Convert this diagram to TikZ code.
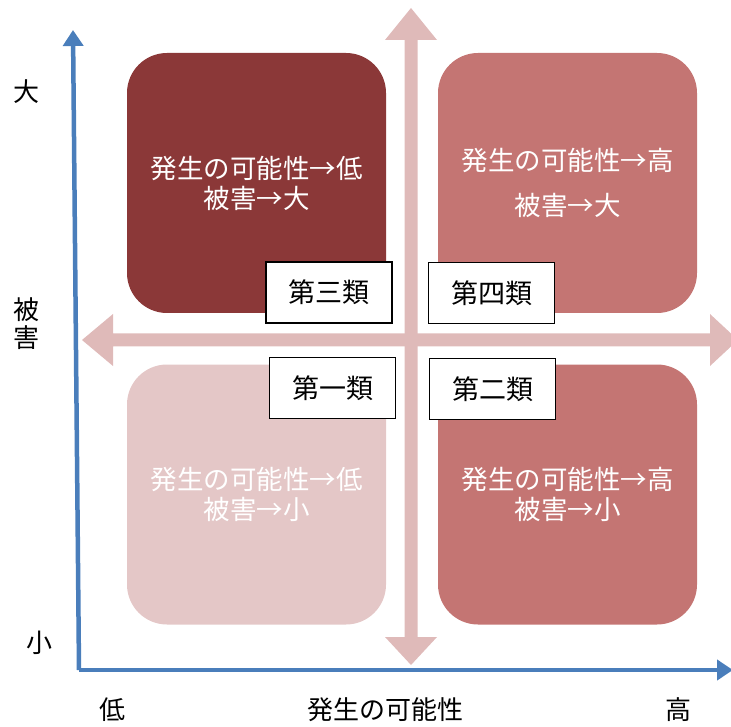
\documentclass[tikz,border=0pt]{standalone}
\usepackage{fontspec}
\setmainfont{Noto Sans CJK JP}
\usetikzlibrary{arrows.meta}
\definecolor{darkred}{HTML}{8B3838}
\definecolor{midred}{HTML}{C47573}
\definecolor{lightred}{HTML}{E4C7C7}
\definecolor{pinkarrow}{HTML}{DFBAB9}
\definecolor{axisblue}{HTML}{4A7EBB}
\tikzset{
  quad/.style={rounded corners=40pt, minimum width=259pt, minimum height=260pt, inner sep=0pt, text=white, align=center, font=\fontsize{26.5}{30}\selectfont},
  tag/.style={draw=black, line width=1.2pt, fill=white, minimum width=126pt, minimum height=61pt, inner sep=0pt, font=\fontsize{27}{30}\selectfont},
  axlabel/.style={inner sep=0pt, font=\fontsize{26}{28}\selectfont},
  bluearrow/.style={draw=axisblue, line width=4.5pt, -{Triangle[length=16pt,width=20pt]}}
}
\begin{document}
\begin{tikzpicture}[x=1pt,y=-1pt]
\useasboundingbox (0,0) rectangle (731,727);
\clip (0,0) rectangle (731,727);
% quadrant boxes
\node[quad, fill=darkred] (q3) at (256.5,183) {発生の可能性→低\\被害→大};
\node[quad, fill=midred, font=\fontsize{26.5}{45}\selectfont] (q4) at (567.5,183) {発生の可能性→高\\被害→大};
\node[quad, fill=lightred] (q1) at (256.5,494.5) {発生の可能性→低\\被害→小};
\node[quad, fill=midred] (q2) at (567.5,494.5) {発生の可能性→高\\被害→小};
% pink cross arrows
\fill[pinkarrow] (411,8) -- (437,40) -- (417.5,40) -- (417.5,637) -- (437,637) -- (411,665) -- (385,637) -- (404.5,637) -- (404.5,40) -- (385,40) -- cycle;
\fill[pinkarrow] (82,340) -- (113,314) -- (113,333.5) -- (710,333.5) -- (710,314) -- (738,340) -- (710,366) -- (710,346.5) -- (113,346.5) -- (113,366) -- cycle;
% tags
\node[tag] (t3) at (329,292.5) {第三類};
\node[tag] (t4) at (491.5,293) {第四類};
\node[tag] (t1) at (332.5,388) {第一類};
\node[tag] (t2) at (492.5,389) {第二類};
% axes
\coordinate (origin) at (79,670);
\coordinate (ytop) at (73,30);
\coordinate (xend) at (733,670);
\draw[bluearrow] (origin) -- (ytop);
\draw[bluearrow] (origin) -- (xend);
% axis labels
\node[axlabel] (big) at (26,92) {大};
\node[axlabel, align=center, font=\fontsize{26}{28}\selectfont] (dmg) at (26,324) {被\\害};
\node[axlabel] (small) at (40,643) {小};
\node[axlabel] (low) at (112,710) {低};
\node[axlabel] (xlab) at (385,710) {発生の可能性};
\node[axlabel] (high) at (678,710) {高};
\end{tikzpicture}
\end{document}
